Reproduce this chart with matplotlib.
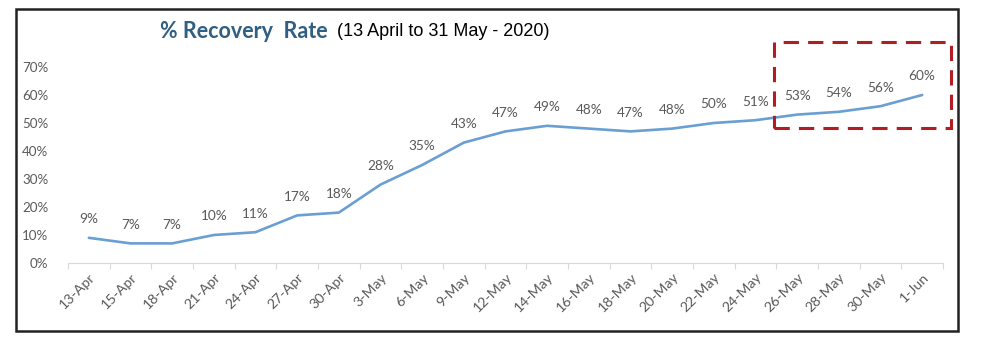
import matplotlib
matplotlib.use("Agg")
import matplotlib.pyplot as plt
from matplotlib.patches import Rectangle
import numpy as np

dates = ["13-Apr", "15-Apr", "18-Apr", "21-Apr", "24-Apr", "27-Apr", "30-Apr",
         "3-May", "6-May", "9-May", "12-May", "14-May", "16-May", "18-May",
         "20-May", "22-May", "24-May", "26-May", "28-May", "30-May", "1-Jun"]
recovery = [9, 7, 7, 10, 11, 17, 18, 28, 35, 43, 47, 49, 48, 47, 48, 50, 51, 53, 54, 56, 60]
yticks = [0, 10, 20, 30, 40, 50, 60, 70]

W, H = 999, 351
fig = plt.figure(figsize=(W / 100, H / 100), dpi=100)
fig.patch.set_facecolor("white")

ax = fig.add_axes([68 / W, 1 - 263 / H, (943 - 68) / W, (263 - 67) / H])
x = np.arange(len(dates))
vals = np.array(recovery) / 100.0
ax.plot(x, vals, color="#6A9FD3", lw=1.9, solid_capstyle="round")

label_font = "Lato"
grey = "#595959"
for xi, v, lab in zip(x, vals, recovery):
    ax.annotate(f"{lab}%", (xi, v), xytext=(0, 9), textcoords="offset points",
                ha="center", va="bottom", fontsize=9.8, color=grey, family=label_font)

ax.set_xlim(-0.5, len(dates) - 0.5)
ax.set_ylim(0, 0.7)
ax.set_yticks([t / 100 for t in yticks])
ax.set_yticklabels([f"{t}%" for t in yticks], fontsize=9.6, color=grey, family=label_font)
ax.tick_params(axis="y", length=0, pad=14)

ax.set_xticks(x)
ax.set_xticklabels(dates, rotation=45, ha="right", va="top", rotation_mode="anchor",
                   fontsize=10.2, color=grey, family=label_font)
ax.tick_params(axis="x", which="major", length=0, pad=6)
ax.set_xticks(np.arange(-0.5, len(dates), 1), minor=True)
ax.tick_params(axis="x", which="minor", length=4, color="#D9D9D9", width=0.8)

for s in ["top", "right", "left"]:
    ax.spines[s].set_visible(False)
ax.spines["bottom"].set_color("#D9D9D9")
ax.spines["bottom"].set_linewidth(0.8)

# Title
fig.text(160 / W, 1 - 32 / H, "% Recovery  Rate", fontsize=15.5, fontweight="bold",
         color="#2F5F82", family="Lato", ha="left", va="center")
fig.text(337 / W, 1 - 32 / H, "(13 April to 31 May - 2020)", fontsize=13,
         color="black", family="Liberation Sans", ha="left", va="center")

# Outer frame
fig.patches.append(Rectangle((16 / W, 1 - 331 / H), (958 - 16) / W, (331 - 9) / H,
                             transform=fig.transFigure, fill=False, ec="#222222", lw=1.8))

# Red dashed highlight box
fig.patches.append(Rectangle((774 / W, 1 - 128 / H), (951 - 774) / W, (128 - 42) / H,
                             transform=fig.transFigure, fill=False, ec="#B01E23", lw=2.2,
                             ls=(0, (5, 3))))

fig.savefig("out.png", dpi=100, facecolor="white")
